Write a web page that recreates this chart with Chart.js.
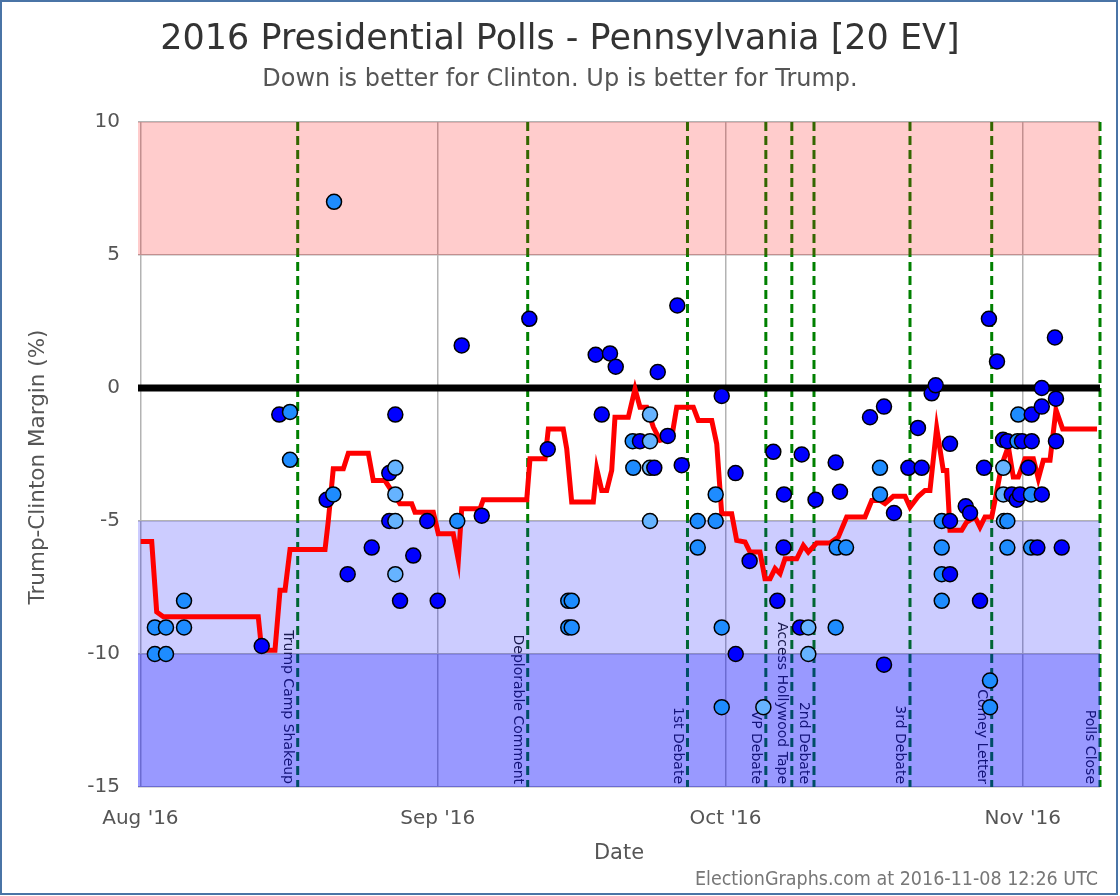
<!DOCTYPE html>
<html>
<head>
<meta charset="utf-8">
<script src="https://cdn.jsdelivr.net/npm/chart.js@4.4.0/dist/chart.umd.min.js"></script>
<style>
html,body{margin:0;padding:0;background:#fff;}
canvas{display:block;}
</style>
</head>
<body>
<canvas id="c" width="1120" height="896"></canvas>
<script>
// Days are counted from 1 Aug 2016 00:00 UTC
const monthTickDays = [0, 31, 61, 92];
const monthTickLabels = ["Aug '16", "Sep '16", "Oct '16", "Nov '16"];

const pollDays = [1.51,1.51,2.67,2.67,4.55,4.55,12.65,14.48,15.60,15.60,19.42,20.11,20.19,21.61,24.12,25.95,25.95,26.58,26.58,26.58,26.58,26.58,27.07,28.45,29.91,31.0,33.04,33.5,35.59,40.55,42.47,44.61,44.97,44.61,44.97,47.47,48.10,48.96,49.56,51.33,51.39,52.09,53.13,53.13,53.13,53.13,53.58,53.94,54.98,55.98,56.44,58.11,58.11,59.98,59.98,60.61,60.61,60.61,62.05,62.07,63.52,64.95,65.99,66.41,67.06,67.10,68.77,68.95,69.64,69.64,70.39,72.49,72.49,72.60,72.94,73.57,76.07,77.11,77.11,77.53,77.53,78.57,80.07,81.07,81.46,82.50,82.92,83.55,83.55,83.55,83.55,84.41,84.41,84.41,86.05,86.50,87.54,87.96,88.47,88.58,88.58,89.31,89.94,89.97,89.97,90.04,90.39,90.39,90.39,90.85,91.37,91.45,91.53,91.71,91.92,92.58,92.86,92.86,92.93,92.93,93.52,93.98,93.98,93.98,95.35,95.46,95.46,96.06];
const pollMargins = [-9,-10,-9,-10,-8,-9,-9.7,-1,-0.9,-2.7,-4.2,-4,7,-7,-6,-3.2,-5,-1,-3,-4,-5,-7,-8,-6.3,-5,-8,-5,1.6,-4.8,2.6,-2.3,-8,-8,-9,-9,1.25,-1,1.3,0.8,-2,-3,-2,-1,-2,-3,-5,-3,0.6,-1.8,3.1,-2.9,-5,-6,-5,-4,-0.3,-9,-12,-3.2,-10,-6.5,-12,-2.4,-8,-6,-4,-9,-2.5,-9,-10,-4.2,-2.8,-9,-6,-3.9,-6,-1.1,-3,-4,-0.7,-10.4,-4.7,-3,-1.5,-3,-0.2,0.1,-5,-6,-7,-8,-2.1,-5,-7,-4.45,-4.7,-8,-3,2.6,-11,-12,1,-1.95,-3,-4,-5,-2,-5,-6,-4,-4.2,-2,-1,-4,-2,-3,-4,-6,-1,-2,-6,0,-0.7,-4,1.9,-0.4,-2,-6];
const pollShades = ['m','m','m','m','m','m','d','d','m','m','d','m','m','d','d','d','d','d','l','l','l','l','d','d','d','d','m','d','d','d','d','m','m','m','m','d','d','d','d','m','m','d','l','l','l','l','d','d','d','d','d','m','m','m','m','d','m','m','d','d','d','l','d','d','d','d','d','d','l','l','d','d','m','m','d','m','d','m','m','d','d','d','d','d','d','d','d','m','m','m','m','d','d','d','d','d','d','d','d','m','m','d','d','l','l','l','d','m','m','d','d','m','m','d','d','d','m','m','d','d','d','d','d','d','d','d','d','d'];

const avgDays = [0.03,1.18,1.70,2.39,12.29,12.65,14.03,14.56,15.08,15.60,19.25,19.59,20.11,21.16,21.68,23.76,24.28,25.50,27.06,28.29,28.63,30.54,31.06,32.62,33.15,33.50,35.41,35.75,40.28,40.62,42.19,42.53,44.09,44.45,44.97,47.22,47.58,48.10,48.62,49.14,49.48,50.87,51.57,52.09,52.79,53.48,54.18,55.40,55.92,57.65,58.17,59.57,60.09,60.61,61.65,62.17,63.04,63.56,64.60,65.12,65.65,66.17,66.69,67.21,68.43,69.12,69.64,70.51,71.90,72.77,73.64,75.55,76.25,77.11,77.63,78.50,79.72,80.24,81.11,81.80,82.32,83.02,83.71,84.07,84.41,85.63,86.15,87.02,87.54,88.06,88.76,89.28,89.80,90.49,91.01,91.53,92.23,93.10,93.62,94.14,94.84,95.46,96.16,99.74];
const avgMargins = [-5.77,-5.77,-8.42,-8.6,-8.6,-9.86,-9.86,-7.6,-7.6,-6.07,-6.07,-5.0,-3.04,-3.04,-2.45,-2.45,-3.48,-3.48,-4.35,-4.35,-4.67,-4.67,-5.48,-5.48,-6.48,-4.54,-4.54,-4.2,-4.2,-2.66,-2.66,-1.54,-1.54,-2.29,-4.29,-4.29,-3.04,-3.85,-3.85,-3.1,-1.1,-1.1,-0.03,-0.72,-0.72,-1.47,-1.97,-1.85,-0.72,-0.72,-1.22,-1.22,-2.1,-4.73,-4.73,-5.73,-5.79,-6.17,-6.17,-7.17,-7.17,-6.79,-6.98,-6.42,-6.42,-5.92,-6.17,-5.83,-5.83,-5.6,-4.85,-4.85,-4.23,-4.23,-4.35,-4.07,-4.07,-4.48,-4.07,-3.85,-3.85,-1.5,-3.1,-3.1,-5.35,-5.35,-5.04,-4.85,-5.23,-4.85,-4.85,-3.9,-2.9,-2.2,-3.35,-3.35,-2.66,-2.66,-3.41,-2.72,-2.72,-0.82,-1.54,-1.54];

const eventDays = [16.40, 40.38, 57.04, 65.21, 67.92, 70.23, 80.24, 88.76, 100.05];
const eventNames = ["Trump Camp Shakeup", "Deplorable Comment", "1st Debate", "VP Debate", "Access Hollywood Tape", "2nd Debate", "3rd Debate", "Comey Letter", "Polls Close"];

const bandLows = [5, -10, -15];
const bandHighs = [10, -5, -10];

const titleText = "2016 Presidential Polls - Pennsylvania [20 EV]";
const subtitleText = "Down is better for Clinton. Up is better for Trump.";
const yTitleText = "Trump-Clinton Margin (%)";
const footerText = "ElectionGraphs.com at 2016-11-08 12:26 UTC";

// ---- styles ----
const shadeColors = { d: '#0000ff', m: '#1e8cff', l: '#66b3ff' };
const bandColors = ['rgba(255,0,0,0.2)', 'rgba(0,0,255,0.2)', 'rgba(0,0,255,0.4)'];
const FONT = '"DejaVu Sans", sans-serif';

const overlayPlugin = {
  id: 'overlay',
  beforeDraw(chart) {
    const ctx = chart.ctx;
    ctx.save();
    ctx.fillStyle = '#ffffff';
    ctx.fillRect(0, 0, chart.width, chart.height);
    ctx.restore();
  },
  beforeDatasetsDraw(chart) {
    const { ctx, chartArea: a, scales: { x, y } } = chart;
    ctx.save();
    // event lines
    ctx.strokeStyle = '#008000';
    ctx.lineWidth = 3;
    ctx.setLineDash([9, 5]);
    eventDays.forEach(d => {
      const px = x.getPixelForValue(d);
      ctx.beginPath();
      ctx.moveTo(px, a.top);
      ctx.lineTo(px, a.bottom);
      ctx.stroke();
    });
    ctx.setLineDash([]);
    // event labels
    ctx.fillStyle = '#222';
    ctx.font = '14px ' + FONT;
    ctx.textAlign = 'right';
    ctx.textBaseline = 'middle';
    eventDays.forEach((d, i) => {
      const px = x.getPixelForValue(d);
      ctx.save();
      ctx.translate(px - 10, a.bottom - 3);
      ctx.rotate(Math.PI / 2);
      ctx.fillText(eventNames[i], 0, 0);
      ctx.restore();
    });
    // translucent bands
    bandLows.forEach((lo, i) => {
      const yt = y.getPixelForValue(bandHighs[i]);
      const yb = y.getPixelForValue(lo);
      ctx.fillStyle = bandColors[i];
      ctx.fillRect(a.left, yt, a.right - a.left, yb - yt);
    });
    // zero line
    const y0 = y.getPixelForValue(0);
    ctx.strokeStyle = '#000';
    ctx.lineWidth = 7;
    ctx.beginPath();
    ctx.moveTo(a.left, y0);
    ctx.lineTo(a.right, y0);
    ctx.stroke();
    ctx.restore();
  },
  afterDraw(chart) {
    const ctx = chart.ctx;
    ctx.save();
    ctx.textAlign = 'center';
    ctx.textBaseline = 'middle';
    ctx.fillStyle = '#333';
    ctx.font = '35px ' + FONT;
    ctx.fillText(titleText, 560, 40);
    ctx.fillStyle = '#555';
    ctx.font = '24px ' + FONT;
    ctx.fillText(subtitleText, 560, 80);
    // y axis title
    ctx.save();
    ctx.translate(38, 467);
    ctx.rotate(-Math.PI / 2);
    ctx.font = '21.5px ' + FONT;
    ctx.fillText(yTitleText, 0, 0);
    ctx.restore();
    // footer
    ctx.fillStyle = '#777';
    ctx.font = '19.5px "DejaVu Sans Condensed", sans-serif';
    ctx.textAlign = 'right';
    ctx.fillText(footerText, 1098, 880);
    // outer frame
    ctx.strokeStyle = '#4a74a6';
    ctx.lineWidth = 2;
    ctx.strokeRect(1, 1, 1116, 893);
    ctx.restore();
  }
};

const gridStyle = { color: '#b3b3b3', lineWidth: 1.5, drawTicks: false };

new Chart(document.getElementById('c'), {
  type: 'scatter',
  data: {
    datasets: [
      {
        type: 'scatter',
        label: 'Polls',
        data: pollDays.map((d, i) => ({ x: d, y: pollMargins[i] })),
        backgroundColor: pollShades.map(s => shadeColors[s]),
        borderColor: '#000',
        borderWidth: 1.5,
        pointRadius: 7.5,
        order: 1
      },
      {
        type: 'line',
        label: 'Average',
        data: avgDays.map((d, i) => ({ x: d, y: avgMargins[i] })),
        borderColor: '#ff0000',
        borderWidth: 5,
        pointRadius: 0,
        fill: false,
        tension: 0,
        order: 2
      }
    ]
  },
  options: {
    responsive: false,
    devicePixelRatio: 1,
    animation: false,
    events: [],
    layout: { padding: { top: 122, right: 20, bottom: 0, left: 0 } },
    plugins: {
      legend: { display: false },
      tooltip: { enabled: false },
      title: { display: false }
    },
    scales: {
      x: {
        type: 'linear',
        min: -0.25,
        max: 100.05,
        afterFit(s) { s.height = 109; },
        afterBuildTicks(s) { s.ticks = monthTickDays.map(v => ({ value: v })); },
        ticks: {
          callback: (v) => { const i = monthTickDays.indexOf(v); return i >= 0 ? monthTickLabels[i] : ''; },
          autoSkip: false,
          maxRotation: 0,
          color: '#555',
          font: { family: FONT, size: 20 },
          padding: 20
        },
        grid: gridStyle,
        border: { display: false },
        title: { display: true, text: 'Date', color: '#555', font: { family: FONT, size: 21 }, padding: { top: 0, bottom: 30 } }
      },
      y: {
        min: -15,
        max: 10,
        afterFit(s) { s.width = 138; },
        ticks: { stepSize: 5, color: '#555', font: { family: FONT, size: 20 }, padding: 18 },
        grid: gridStyle,
        border: { display: false },
        title: { display: false }
      }
    }
  },
  plugins: [overlayPlugin]
});
</script>
</body>
</html>
